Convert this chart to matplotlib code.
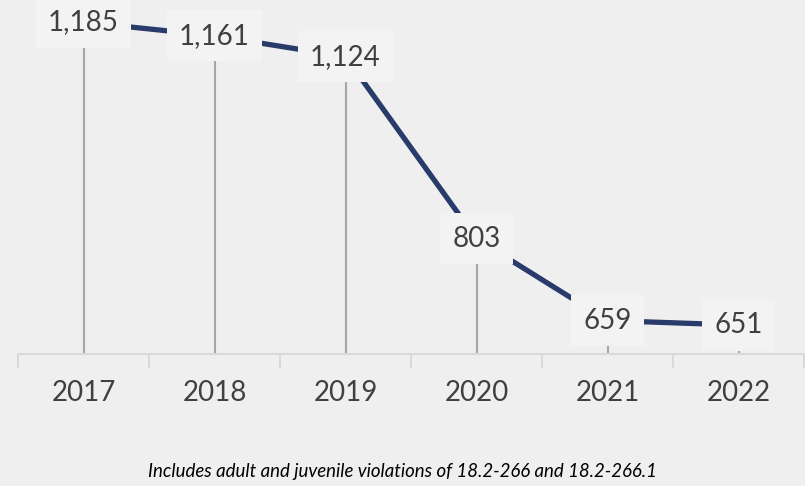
import numpy as np
import matplotlib.pyplot as plt

# Data
years = ["2017", "2018", "2019", "2020", "2021", "2022"]
counts = [1185, 1161, 1124, 803, 659, 651]
note = "Includes adult and juvenile violations of 18.2-266 and 18.2-266.1"

BG = "#efefef"
LINE = "#283b6b"
TEXT = "#404040"

plt.rcParams['font.family'] = ['Lato', 'DejaVu Sans']

fig = plt.figure(figsize=(8.05, 4.86), dpi=100, facecolor=BG)
ax = fig.add_axes([18 / 805, (486 - 354) / 486, 786 / 805, 354 / 486])
ax.set_facecolor(BG)

x = np.arange(len(years)) + 0.5

# drop lines from axis to each point
ax.vlines(x, 600, counts, color="#a6a6a6", lw=1.5, zorder=1)
ax.plot(x, counts, color=LINE, lw=3.8, solid_capstyle="butt", zorder=2)

for xi, v in zip(x, counts):
    ax.text(xi, v, f"{v:,}", ha="center", va="center", fontsize=20,
            color=TEXT, zorder=3,
            bbox=dict(boxstyle="square,pad=0.45", fc="#f3f3f3", ec="none"))

ax.set_xlim(0, len(years))
ax.set_ylim(600, 1224)

ax.set_xticks(x)
ax.set_xticklabels(years, fontsize=20, color=TEXT)
ax.tick_params(axis="x", which="major", length=0, pad=19)
ax.set_xticks(np.arange(len(years) + 1), minor=True)
ax.tick_params(axis="x", which="minor", length=10, width=1.5, color="#d9d9d9")
ax.set_yticks([])

for s in ["top", "left", "right"]:
    ax.spines[s].set_visible(False)
ax.spines["bottom"].set_color("#d9d9d9")
ax.spines["bottom"].set_linewidth(1.5)

fig.text(402 / 805, 1 - 471 / 486, note, ha="center", va="center",
         fontsize=13.4, style="italic", color="black")

fig.savefig("out.png", dpi=100, facecolor=BG)
